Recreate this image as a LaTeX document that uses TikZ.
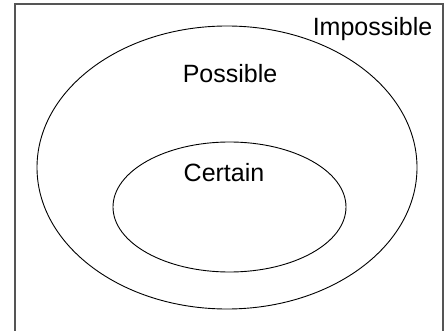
\documentclass[tikz,border=0pt]{standalone}
\usepackage{fontspec}
\setmainfont{Liberation Sans}
\usepackage{tikz}
\usetikzlibrary{positioning}
\definecolor{frame}{HTML}{555555}

\begin{document}
\begin{tikzpicture}[x=1pt, y=-1pt, label/.style={anchor=base, font=\fontsize{25}{29}\selectfont, inner sep=0pt}]
\useasboundingbox (0,0) rectangle (447,331);
\draw[frame, line width=1.5pt] (15,4) rectangle (443,334);
\draw[line width=0.9pt] (227,167.5) ellipse [x radius=190, y radius=141.5];
\draw[line width=0.9pt] (229.5,207) ellipse [x radius=116.5, y radius=65];
\node[label] (impossible) at (372.5,36) {Impossible};
\node[label] (possible) at (230,83) {Possible};
\node[label] (certain) at (224,182) {Certain};
\end{tikzpicture}
\end{document}
